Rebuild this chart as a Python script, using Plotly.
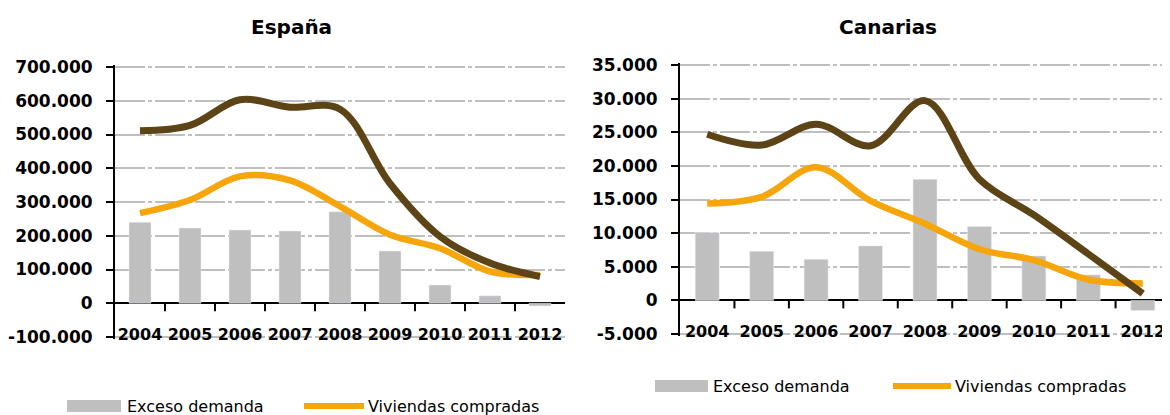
import plotly.graph_objects as go

years = ["2004", "2005", "2006", "2007", "2008", "2009", "2010", "2011", "2012"]

# España
esp_exceso = [240000, 223000, 217000, 214000, 271000, 155000, 54000, 22000, -8000]
esp_viviendas = [267000, 306000, 376000, 364000, 287000, 203000, 163000, 94000, 84000]
esp_demanda = [511000, 527000, 603000, 581000, 575000, 355000, 198000, 119000, 79000]
esp_ticks = [-100000, 0, 100000, 200000, 300000, 400000, 500000, 600000, 700000]
esp_ticktext = ["-100.000", "0", "100.000", "200.000", "300.000", "400.000",
                "500.000", "600.000", "700.000"]

# Canarias
can_exceso = [10100, 7300, 6100, 8100, 18000, 11000, 6600, 3800, -1500]
can_viviendas = [14400, 15400, 19800, 14800, 11400, 7600, 6000, 3100, 2500]
can_demanda = [24700, 23100, 26200, 23000, 29700, 18000, 12700, 6900, 1000]
can_ticks = [-5000, 0, 5000, 10000, 15000, 20000, 25000, 30000, 35000]
can_ticktext = ["-5.000", "0", "5.000", "10.000", "15.000", "20.000",
                "25.000", "30.000", "35.000"]

titles = ["España", "Canarias"]
legend_labels = ["Exceso demanda", "Viviendas compradas"]

GRAY = "#BFBFBF"
ORANGE = "#F6A50B"
BROWN = "#5C4416"

# page offset (body margin) compensation
OFF = 8
W, H = 1170 - OFF, 415 - OFF

def px(xp):
    return (xp - OFF) / W

def py(yp):
    return (H - (yp - OFF)) / H

fig = go.Figure()

def add_panel(xa, ya, exceso, viv, dem):
    fig.add_trace(go.Bar(x=years, y=exceso, xaxis=xa, yaxis=ya, marker_color=GRAY,
                         width=0.44, name=legend_labels[0], showlegend=False))
    fig.add_trace(go.Scatter(x=years, y=viv, xaxis=xa, yaxis=ya, mode="lines",
                             line=dict(color=ORANGE, width=6.5, shape="spline", smoothing=1.0),
                             name=legend_labels[1], showlegend=False))
    fig.add_trace(go.Scatter(x=years, y=dem, xaxis=xa, yaxis=ya, mode="lines",
                             line=dict(color=BROWN, width=7, shape="spline", smoothing=1.0),
                             name="Demanda", showlegend=False))

add_panel("x", "y", esp_exceso, esp_viviendas, esp_demanda)
add_panel("x2", "y2", can_exceso, can_viviendas, can_demanda)

tickfont_y = dict(family="DejaVu Sans", size=17, color="black", weight="bold")
tickfont_x = dict(family="DejaVu Sans", size=16, color="black", weight="bold")

PAD = 2  # px of extra room so that the end gridlines are drawn

def yaxis_cfg(top_px, bot_px, lo, hi, tv, tt, anchor):
    pad = PAD * (hi - lo) / (bot_px - top_px)
    return dict(domain=[py(bot_px + PAD), py(top_px - PAD)], anchor=anchor,
                range=[lo - pad, hi + pad], tickvals=tv, ticktext=tt,
                tickfont=tickfont_y, automargin=False, ticklabeloverflow="allow",
                showline=True, linecolor="black", linewidth=2,
                ticks="outside", ticklen=7, tickwidth=2, tickcolor="black",
                showgrid=True, gridcolor=GRAY, gridwidth=2, griddash="30px,3px,4px,3px",
                zeroline=True, zerolinecolor="black", zerolinewidth=2,
                ticklabelstandoff=10, fixedrange=True)

def xaxis_cfg(domain, anchor):
    return dict(domain=domain, anchor=anchor, type="category", range=[-0.5, 8.5],
                automargin=False, showgrid=False, showline=False, ticks="", zeroline=False,
                ticklabelposition="inside", ticklabelstandoff=-7, ticklabeloverflow="allow",
                tickfont=tickfont_x, fixedrange=True)

fig.update_layout(
    width=W, height=H,
    margin=dict(l=0, r=0, t=0, b=0, pad=0, autoexpand=False),
    paper_bgcolor="white", plot_bgcolor="white",
    bargap=0.5,
    xaxis=xaxis_cfg([px(115), px(565)], "y"),
    yaxis=yaxis_cfg(67, 337, -100000, 700000, esp_ticks, esp_ticktext, "x"),
    xaxis2=xaxis_cfg([px(680), 1.0], "y2"),
    yaxis2=yaxis_cfg(65, 334, -5000, 35000, can_ticks, can_ticktext, "x2"),
    showlegend=False,
)

# x-axis tick marks on the zero line (category boundaries)
shapes = []
for xa, ya in [("x", "y"), ("x2", "y2")]:
    for i in range(len(years) - 1):
        shapes.append(dict(type="line", xref=xa, yref=ya, x0=i + 0.5, x1=i + 0.5,
                           ysizemode="pixel", yanchor=0, y0=0, y1=-8,
                           line=dict(color="black", width=2)))

# Titles
annotations = [
    dict(text="<b>%s</b>" % titles[0], x=px(291), y=py(27), xref="paper", yref="paper",
         xanchor="center", yanchor="middle", showarrow=False,
         font=dict(family="DejaVu Sans", size=20, color="black")),
    dict(text="<b>%s</b>" % titles[1], x=px(888), y=py(27), xref="paper", yref="paper",
         xanchor="center", yanchor="middle", showarrow=False,
         font=dict(family="DejaVu Sans", size=20, color="black")),
]

# Manual legends
legfont = dict(family="DejaVu Sans", size=16, color="black")
for (bx0, bx1, tx1, lx0, lx1, tx2, yc) in [(67, 121, 125, 304, 364, 366, 406),
                                           (655, 708, 711, 893, 951, 953, 386)]:
    shapes.append(dict(type="rect", xref="paper", yref="paper", x0=px(bx0), x1=px(bx1),
                       y0=py(yc + 6), y1=py(yc - 6),
                       fillcolor=GRAY, line=dict(width=0)))
    shapes.append(dict(type="line", xref="paper", yref="paper", x0=px(lx0), x1=px(lx1),
                       y0=py(yc), y1=py(yc),
                       line=dict(color=ORANGE, width=6)))
    annotations.append(dict(text=legend_labels[0], x=px(tx1), y=py(yc), xref="paper",
                            yref="paper", xanchor="left", yanchor="middle", showarrow=False,
                            font=legfont))
    annotations.append(dict(text=legend_labels[1], x=px(tx2), y=py(yc), xref="paper",
                            yref="paper", xanchor="left", yanchor="middle", showarrow=False,
                            font=legfont))

fig.update_layout(shapes=shapes, annotations=annotations)

fig.write_html("out.html")
